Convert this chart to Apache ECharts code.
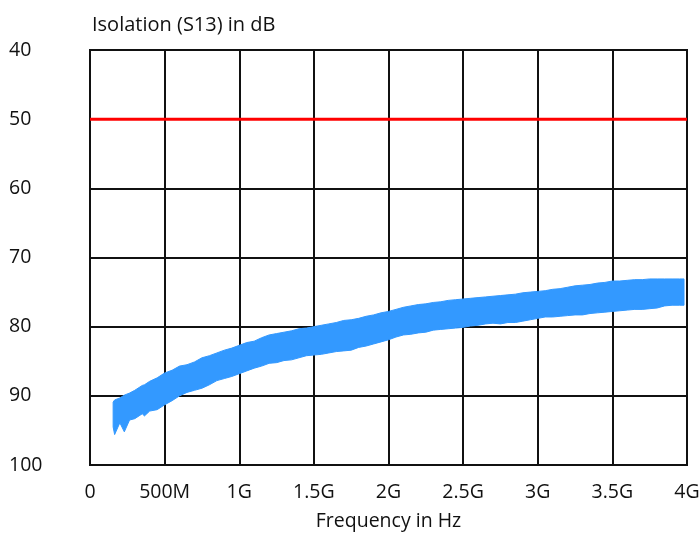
<!DOCTYPE html>
<html>
<head>
<meta charset="UTF-8">
<title>Isolation (S13)</title>
<script src="https://cdn.jsdelivr.net/npm/echarts@6/dist/echarts.min.js"></script>
</head>
<body style="margin:0;">
<div id="container" style="width:699px;height:533px;"></div>
<script>
// frequency in MHz
var freq = [155, 165, 200, 230, 265, 300, 350, 365, 400, 450, 500, 550, 600, 650, 700, 750, 800, 850, 900, 950,
  1000, 1050, 1100, 1150, 1200, 1250, 1300, 1350, 1400, 1450, 1500, 1550, 1600, 1650, 1700, 1750, 1800, 1850, 1900, 1950,
  2000, 2050, 2100, 2150, 2200, 2250, 2300, 2350, 2400, 2450, 2500, 2550, 2600, 2650, 2700, 2750, 2800, 2850, 2900, 2950,
  3000, 3050, 3100, 3150, 3200, 3250, 3300, 3350, 3400, 3450, 3500, 3550, 3600, 3650, 3700, 3750, 3800, 3850, 3900, 3950, 3980];
// upper edge of the measured trace (smaller dB)
var isoTop = [90.9, 90.6, 90.3, 89.9, 89.6, 89.2, 88.5, 88.4, 87.9, 87.4, 86.7, 86.3, 85.7, 85.5, 85.1, 84.5, 84.2, 83.8, 83.4, 83.1,
  82.7, 82.3, 82.1, 81.6, 81.2, 81.0, 80.8, 80.6, 80.3, 80.2, 80.0, 79.8, 79.6, 79.4, 79.1, 79.0, 78.8, 78.5, 78.3, 78.0,
  77.8, 77.5, 77.2, 77.0, 76.8, 76.7, 76.5, 76.4, 76.2, 76.1, 76.0, 75.9, 75.8, 75.7, 75.6, 75.5, 75.4, 75.3, 75.1, 75.0,
  74.9, 74.8, 74.6, 74.5, 74.3, 74.1, 74.0, 73.9, 73.7, 73.6, 73.4, 73.4, 73.3, 73.2, 73.2, 73.1, 73.1, 73.1, 73.1, 73.1, 73.1];
// lower edge of the measured trace (larger dB)
var isoBottom = [94.5, 95.6, 93.9, 95.2, 93.5, 93.3, 92.6, 92.9, 92.2, 92.0, 91.3, 90.7, 90.0, 89.5, 89.2, 88.9, 88.4, 87.8, 87.5, 87.2,
  86.8, 86.4, 86.0, 85.7, 85.3, 85.2, 84.9, 84.8, 84.5, 84.2, 84.1, 84.0, 83.8, 83.6, 83.5, 83.4, 83.0, 82.8, 82.5, 82.2,
  81.9, 81.5, 81.2, 81.1, 80.9, 80.8, 80.5, 80.4, 80.3, 80.2, 80.1, 79.9, 79.8, 79.6, 79.5, 79.6, 79.4, 79.4, 79.2, 79.0,
  78.8, 78.6, 78.6, 78.5, 78.4, 78.3, 78.3, 78.1, 78.0, 77.9, 77.8, 77.7, 77.6, 77.5, 77.5, 77.4, 77.3, 77.0, 76.9, 76.9, 76.9];
// limit line
var limitFreq = [0, 4000];
var limitValue = [50, 50];

var myChart = echarts.init(document.getElementById('container'));

var bandData = freq.map(function (f, i) { return [f, isoTop[i], isoBottom[i]]; });
var limitData = limitFreq.map(function (f, i) { return [f, limitValue[i]]; });

var font = 'Open Sans';
var blue = '#3399ff';

// draws the trace envelope as one filled polygon
function renderBand(params, api) {
  if (params.dataIndex !== 0) return;
  var upper = [], lower = [];
  for (var i = 0; i < bandData.length; i++) {
    upper.push(api.coord([bandData[i][0], bandData[i][1]]));
    lower.push(api.coord([bandData[i][0], bandData[i][2]]));
  }
  return {
    type: 'polygon',
    shape: { points: upper.concat(lower.reverse()) },
    style: { fill: blue, stroke: blue, lineWidth: 1 }
  };
}

var option = {
  animation: false,
  backgroundColor: '#fff',
  title: {
    text: 'Isolation (S13) in dB',
    left: 87,
    top: 10,
    textStyle: { fontFamily: font, fontSize: 20, fontWeight: 'normal', color: '#111' }
  },
  grid: {
    left: 90, right: 12, top: 50, bottom: 68,
    outerBoundsMode: 'none',
    containLabel: false,
    show: true, borderColor: '#111', borderWidth: 2
  },
  xAxis: {
    type: 'value',
    min: 0, max: 4000, interval: 500,
    name: 'Frequency in Hz',
    nameLocation: 'middle',
    nameGap: 46,
    nameTextStyle: { fontFamily: font, fontSize: 19.5, color: '#111' },
    axisLine: { lineStyle: { color: '#111', width: 2 } },
    axisTick: { show: false },
    axisLabel: {
      margin: 17, fontFamily: font, fontSize: 19.5, color: '#111',
      formatter: function (v) {
        if (v === 0) return '0';
        if (v < 1000) return v + 'M';
        return (v / 1000) + 'G';
      }
    },
    splitLine: { lineStyle: { color: '#111', width: 2 } }
  },
  yAxis: {
    type: 'value',
    inverse: true,
    min: 40, max: 100, interval: 10,
    axisLine: { show: true, lineStyle: { color: '#111', width: 2 } },
    axisTick: { show: false },
    axisLabel: { margin: 81, align: 'left', fontFamily: font, fontSize: 19.5, color: '#111' },
    splitLine: { lineStyle: { color: '#111', width: 2 } }
  },
  series: [
    {
      name: 'limit',
      type: 'line',
      data: limitData,
      symbol: 'none',
      lineStyle: { color: '#ff0000', width: 3 }
    },
    {
      name: 'S13',
      type: 'custom',
      renderItem: renderBand,
      encode: { x: 0, y: [1, 2] },
      data: bandData,
      clip: true
    }
  ]
};

myChart.setOption(option);
</script>
</body>
</html>
